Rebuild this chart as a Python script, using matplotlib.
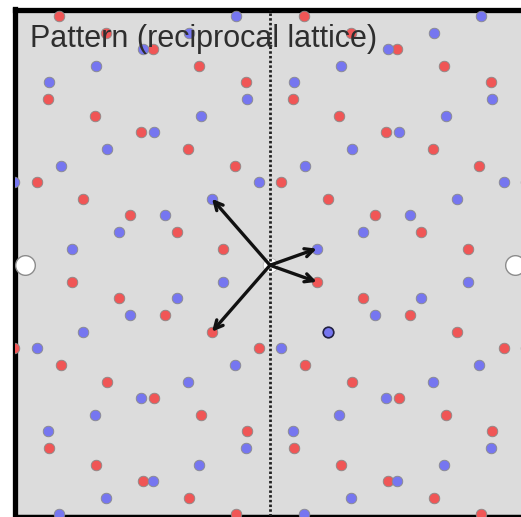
import numpy as np
import matplotlib
matplotlib.use("Agg")
import matplotlib.pyplot as plt

# Reciprocal basis vectors of the two lattices (mirror images about the x axis)
blue_b1 = [-0.580, 0.664]
blue_b2 = [0.467, 0.166]
red_b1 = [-0.580, -0.664]
red_b2 = [0.467, -0.166]

# Coincidence sites shared by both lattices (index pairs n = -4m)
coincidence_m = [-1, 0, 1]
highlight_blue = [(-1, 0)]  # blue spot drawn with a dark outline

title = "Pattern (reciprocal lattice)"

XLIM = (-2.555, 2.555)
YLIM = (-2.50, 2.555)


def lattice(b1, b2, exclude):
    b1 = np.asarray(b1)
    b2 = np.asarray(b2)
    pts = []
    for m in range(-25, 26):
        for n in range(-40, 41):
            if (m, n) in exclude:
                continue
            p = m * b1 + n * b2
            if XLIM[0] - 0.1 <= p[0] <= XLIM[1] + 0.1 and YLIM[0] - 0.1 <= p[1] <= YLIM[1] + 0.1:
                pts.append(p)
    return np.array(pts)


exclude = {(m, -4 * m) for m in range(-25, 26)}
blue_pts = lattice(blue_b1, blue_b2, exclude)
red_pts = lattice(red_b1, red_b2, exclude)

W, H = 521, 517
fig = plt.figure(figsize=(W / 100, H / 100), dpi=100)
fig.patch.set_facecolor("white")
left_px, right_px, top_px, bottom_px = 14.5, 525.5, 9.5, 515.5
ax = fig.add_axes([left_px / W, 1 - bottom_px / H, (right_px - left_px) / W, (bottom_px - top_px) / H])
ax.set_facecolor("#dcdcdc")
ax.set_xlim(*XLIM)
ax.set_ylim(*YLIM)
ax.set_xticks([])
ax.set_yticks([])
for sp in ax.spines.values():
    sp.set_linewidth(3.8)
    sp.set_color("black")
ax.spines["bottom"].set_linewidth(2.5)

dot_size = 58
ax.scatter(red_pts[:, 0], red_pts[:, 1], s=dot_size, c="#f05656", edgecolors="#8a8a8a",
           linewidths=0.6, zorder=3)
ax.scatter(blue_pts[:, 0], blue_pts[:, 1], s=dot_size, c="#7676f0", edgecolors="#8a8a8a",
           linewidths=0.6, zorder=3)

# highlighted blue spot
for m, n in highlight_blue:
    p = m * np.asarray(blue_b1) + n * np.asarray(blue_b2)
    ax.scatter([p[0]], [p[1]], s=dot_size, c="#7676f0", edgecolors="#222244",
               linewidths=1.2, zorder=4)

# coincidence sites in white
b1 = np.asarray(blue_b1)
b2 = np.asarray(blue_b2)
cs = np.array([m * b1 + (-4 * m) * b2 for m in coincidence_m])
side = cs[np.abs(cs[:, 0]) > 1e-9]
ax.scatter(side[:, 0], side[:, 1], s=200, c="white", edgecolors="#8c8c8c",
           linewidths=1.0, zorder=3)
centre = cs[np.abs(cs[:, 0]) < 1e-9]
ax.scatter(centre[:, 0], centre[:, 1], s=110, c="white", edgecolors="#bbbbbb",
           linewidths=0.6, zorder=3)

# mirror line
ax.axvline(0, color="#222222", lw=2.0, linestyle=(0, (0.9, 0.8)), zorder=4)

# basis vector arrows
for v in (blue_b1, blue_b2, red_b1, red_b2):
    ax.annotate("", xy=(v[0], v[1]), xytext=(0, 0),
                arrowprops=dict(arrowstyle="->,head_length=0.6,head_width=0.3",
                                color="#111111", lw=2.4, shrinkA=0, shrinkB=0),
                zorder=5)

ax.text(30 / W, 1 - 47 / H, title, transform=fig.transFigure, fontsize=22,
        family="Liberation Sans", color="#2e2e2e", va="baseline", ha="left", zorder=6)

fig.savefig("out.png", dpi=100)
